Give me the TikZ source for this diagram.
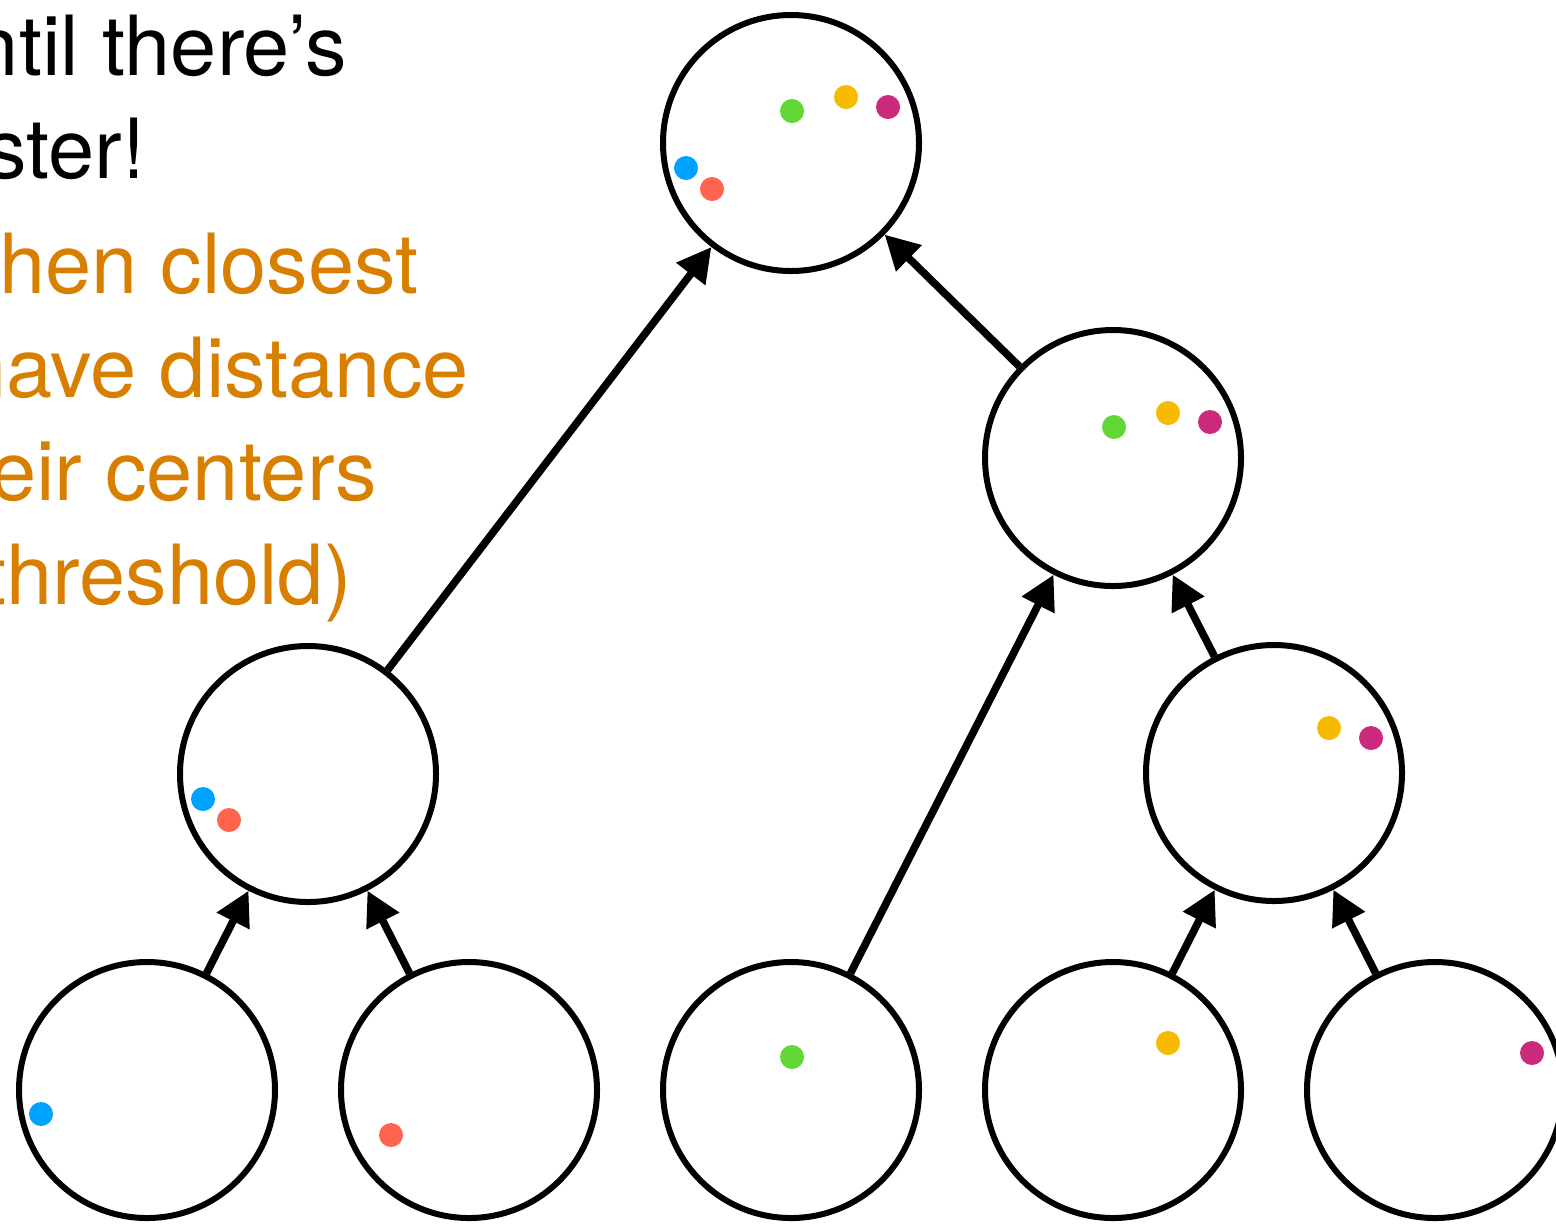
\documentclass[tikz,border=0pt]{standalone}
\usepackage{fontspec}
\setmainfont{TeX Gyre Heros}
\usetikzlibrary{arrows.meta}
\definecolor{korange}{HTML}{D97F00}
\definecolor{dblue}{HTML}{00A2FF}
\definecolor{dred}{HTML}{FF644E}
\definecolor{dgreen}{HTML}{61D836}
\definecolor{dyellow}{HTML}{F8BA00}
\definecolor{dmag}{HTML}{CB297B}
\tikzset{
  clus/.style={circle, draw=black, line width=3pt, minimum size=128pt, inner sep=0pt, fill=none},
  conn/.style={line width=3.8pt, -{Triangle[length=17pt,width=17.5pt]}},
  txt/.style={anchor=base east, inner sep=0pt, font=\fontsize{41.5pt}{52pt}\selectfont}
}
\begin{document}
\begin{tikzpicture}[x=0.5pt,y=-0.5pt]
\useasboundingbox (0,0) rectangle (1556,1223);
\clip (0,0) rectangle (1556,1223);
% text
\node[txt, text=black] (t1) at (347,75) {until there’s};
\node[txt, text=black] (t2) at (146,178) {cluster!};
\node[txt, text=korange] (t3) at (419,293) {when closest};
\node[txt, text=korange] (t4) at (469,397) {have distance};
\node[txt, text=korange] (t5) at (377,500) {their centers};
\node[txt, text=korange] (t6) at (352,604) {threshold)};
% clusters
\node[clus] (root) at (791,143) {};
\node[clus] (mr) at (1113,458) {};
\node[clus] (ml) at (308,774) {};
\node[clus] (lr) at (1274,773) {};
\node[clus] (b1) at (147,1090) {};
\node[clus] (b2) at (469,1090) {};
\node[clus] (b3) at (791,1090) {};
\node[clus] (b4) at (1113,1090) {};
\node[clus] (b5) at (1435,1090) {};
% connectors
\draw[conn] (b1) -- (ml);
\draw[conn] (b2) -- (ml);
\draw[conn] (ml) -- (root);
\draw[conn] (b3) -- (mr);
\draw[conn] (lr) -- (mr);
\draw[conn] (mr) -- (root);
\draw[conn] (b4) -- (lr);
\draw[conn] (b5) -- (lr);
% dots: root
\fill[dgreen] (792,111) circle (6pt);
\fill[dyellow] (846,97) circle (6pt);
\fill[dmag] (888,107) circle (6pt);
\fill[dblue] (686,168) circle (6pt);
\fill[dred] (712,189) circle (6pt);
% mr
\fill[dgreen] (1114,427) circle (6pt);
\fill[dyellow] (1168,413) circle (6pt);
\fill[dmag] (1210,422) circle (6pt);
% lr
\fill[dyellow] (1329,728) circle (6pt);
\fill[dmag] (1371,738) circle (6pt);
% ml
\fill[dblue] (203,799) circle (6pt);
\fill[dred] (229,820) circle (6pt);
% bottom
\fill[dblue] (41,1114) circle (6pt);
\fill[dred] (391,1135) circle (6pt);
\fill[dgreen] (792,1057) circle (6pt);
\fill[dyellow] (1168,1043) circle (6pt);
\fill[dmag] (1532,1053) circle (6pt);
\end{tikzpicture}
\end{document}
